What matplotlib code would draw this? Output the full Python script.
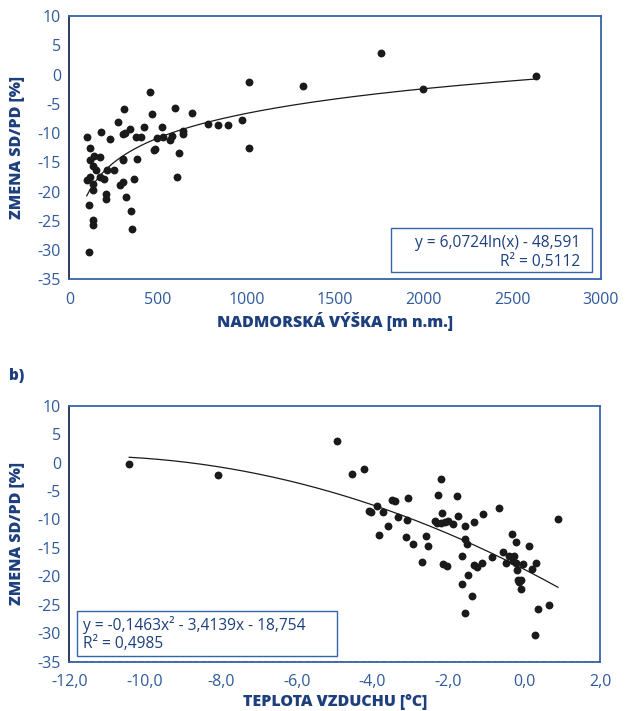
import numpy as np
import matplotlib
matplotlib.use("Agg")
import matplotlib.pyplot as plt
from matplotlib.patches import Rectangle

plt.rcParams['font.family'] = ['Open Sans', 'DejaVu Sans']

# --- a) change of snow days vs. altitude ---
altitude = [102, 117, 179, 228, 115, 139, 173, 135, 149, 98, 117, 135, 173, 198,
            214, 252, 135, 205, 209, 113, 135, 132, 113, 273, 310, 301, 314, 341,
            376, 403, 420, 454, 467, 521, 497, 527, 567, 581, 598, 640, 640, 694,
            783, 839, 897, 975, 1014, 1016, 301, 305, 380, 478, 484, 621, 609, 365,
            286, 305, 318, 348, 352, 1319, 1760, 1994, 2632]
change_a = [-10.7, -12.6, -9.9, -11.1, -14.6, -14.0, -14.1, -15.6, -16.3, -18.1,
            -17.6, -18.7, -17.6, -17.9, -16.4, -16.4, -19.7, -20.5, -21.3, -22.3,
            -24.9, -25.7, -30.3, -8.1, -5.9, -10.2, -10.0, -9.3, -10.6, -10.7,
            -9.0, -3.0, -6.7, -8.9, -10.8, -10.6, -11.2, -10.5, -5.8, -9.6, -10.2,
            -6.5, -8.5, -8.7, -8.7, -7.7, -1.2, -12.6, -14.4, -14.6, -14.4, -12.9,
            -12.7, -13.5, -17.6, -17.9, -18.9, -18.3, -20.9, -23.3, -26.4, -2.0,
            3.7, -2.4, -0.3]

# --- b) change of snow days vs. air temperature ---
temperature = [-10.42, -8.07, -4.93, -4.53, -4.22, -4.09, -4.03, -3.88, -3.72, -3.82,
               -3.59, -3.49, -3.41, -3.07, -3.32, -3.09, -3.11, -2.93, -2.70, -2.60,
               -2.53, -2.19, -2.28, -1.77, -2.17, -2.35, -2.31, -2.20, -2.09, -2.00,
               -1.87, -1.75, -1.55, -1.33, -1.08, -0.67, -1.57, -1.52, -1.64, -2.13,
               -2.04, -1.33, -1.25, -1.12, -1.49, -1.64, -1.38, -1.56, -0.84, -0.57,
               -0.49, -0.31, -0.22, -0.39, -0.28, -0.30, -0.22, -0.19, -0.02, 0.13,
               0.21, 0.30, -0.15, -0.09, -0.14, -0.09, 0.36, 0.65, 0.28, 0.89]
change_b = [-0.2, -2.2, 3.8, -1.95, -1.1, -8.5, -8.7, -7.6, -8.7, -12.7,
            -11.1, -6.5, -6.7, -6.3, -9.6, -10.1, -13.1, -14.3, -17.5, -12.9,
            -14.6, -2.9, -5.7, -5.9, -8.8, -10.2, -10.7, -10.6, -10.5, -10.3,
            -10.8, -9.3, -11.1, -10.5, -9.0, -8.0, -13.5, -14.3, -16.5, -17.8,
            -18.2, -18.0, -18.3, -17.6, -19.8, -21.3, -23.4, -26.4, -16.6, -15.7,
            -17.6, -12.6, -14.0, -16.4, -16.5, -17.3, -17.7, -18.9, -17.8, -14.7,
            -18.7, -17.7, -20.6, -20.6, -21.0, -22.3, -25.7, -25.0, -30.3, -10.0]

# trend line coefficients (as printed in the equation boxes)
log_a, log_b = 6.0724, -48.591
poly_b = [-0.1463, -3.4139, -18.754]

eq_a = ["y = 6,0724ln(x) - 48,591", "R² = 0,5112"]
eq_b = ["y = -0,1463x² - 3,4139x - 18,754", "R² = 0,4985"]

xlabel_a = "NADMORSKÁ VÝŠKA [m n.m.]"
xlabel_b = "TEPLOTA VZDUCHU [°C]"
ylabel = "ZMENA SD/PD [%]"

xticks_a = [0, 500, 1000, 1500, 2000, 2500, 3000]
xticks_b = [-12, -10, -8, -6, -4, -2, 0, 2]
yticks = [10, 5, 0, -5, -10, -15, -20, -25, -30, -35]

FRAME = "#3565a8"
AXIS_DARK = "#1c2d4f"
TICK_C = "#2f5a9c"
LABEL_C = "#1d3f7d"


def comma(v, decimals=0):
    return f"{v:.{decimals}f}".replace(".", ",")


fig = plt.figure(figsize=(6.28, 7.11), dpi=100)
ax1 = fig.add_axes([0.1104, 0.6072, 0.8467, 0.3703])
ax2 = fig.add_axes([0.1104, 0.0693, 0.8450, 0.3601])


def style(ax, xticks, xfmt, xlabel):
    ax.set_ylim(-35, 10)
    ax.set_yticks(yticks)
    ax.set_yticklabels([comma(v) for v in yticks])
    ax.set_xticks(xticks)
    ax.set_xticklabels([xfmt(v) for v in xticks])
    ax.tick_params(length=0, labelsize=11.5, labelcolor=TICK_C)
    ax.tick_params(axis="x", pad=9)
    ax.tick_params(axis="y", pad=6)
    for side in ["top", "right", "bottom"]:
        ax.spines[side].set_color(FRAME)
        ax.spines[side].set_linewidth(1.3)
    ax.spines["left"].set_color(AXIS_DARK)
    ax.spines["left"].set_linewidth(1.3)
    ax.set_xlabel(xlabel, fontsize=11.5, fontweight="heavy", color=LABEL_C, labelpad=3)
    ax.set_ylabel(ylabel, fontsize=11.5, fontweight="heavy", color=LABEL_C, labelpad=9)


# top panel
ax1.set_xlim(0, 3000)
ax1.scatter(altitude, change_a, s=32, color="#1a1a1a", zorder=3, linewidths=0)
xa = np.linspace(min(altitude), max(altitude), 300)
ax1.plot(xa, log_a * np.log(xa) + log_b, color="#1a1a1a", lw=0.9, zorder=2)
style(ax1, xticks_a, lambda v: str(v), xlabel_a)
ax1.add_patch(Rectangle((0.6056, 0.0289), 0.3769, 0.1671, transform=ax1.transAxes,
                        fill=False, edgecolor=FRAME, lw=1.0, zorder=4))
ax1.text(0.961, 0.1379, eq_a[0], transform=ax1.transAxes, ha="right", va="center",
         fontsize=11.2, color=LABEL_C, zorder=5)
ax1.text(0.961, 0.0657, eq_a[1], transform=ax1.transAxes, ha="right", va="center",
         fontsize=11.2, color=LABEL_C, zorder=5)

# bottom panel
ax2.set_xlim(-12, 2)
ax2.scatter(temperature, change_b, s=32, color="#1a1a1a", zorder=3, linewidths=0)
xb = np.linspace(min(temperature), max(temperature), 300)
ax2.plot(xb, np.polyval(poly_b, xb), color="#1a1a1a", lw=0.9, zorder=2)
style(ax2, xticks_b, lambda v: comma(v, 1), xlabel_b)
ax2.axhline(-35, color=AXIS_DARK, lw=1.0, ls=(0, (3, 2)), zorder=4)
ax2.add_patch(Rectangle((0.0151, 0.0234), 0.4899, 0.1756, transform=ax2.transAxes,
                        fill=False, edgecolor=FRAME, lw=1.0, zorder=4))
ax2.text(0.0264, 0.1434, eq_b[0], transform=ax2.transAxes, ha="left", va="center",
         fontsize=11.2, color=LABEL_C, zorder=5)
ax2.text(0.0264, 0.0691, eq_b[1], transform=ax2.transAxes, ha="left", va="center",
         fontsize=11.2, color=LABEL_C, zorder=5)

fig.text(0.014, 0.471, "b)", fontsize=11, fontweight="heavy", color=LABEL_C,
         ha="left", va="center")

fig.savefig("out.png", dpi=100)
